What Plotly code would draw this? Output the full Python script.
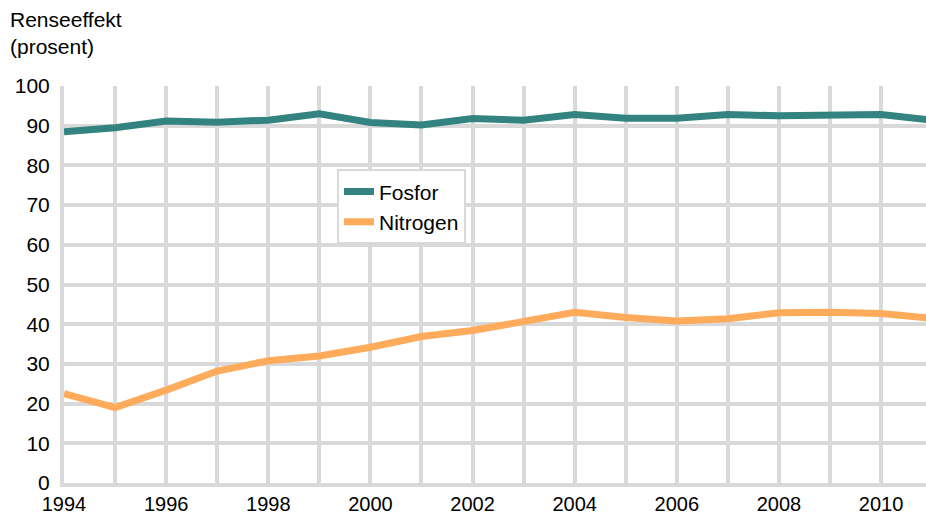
import plotly.graph_objects as go

years = list(range(1994, 2012))
fosfor = [88.5, 89.5, 91.2, 90.9, 91.4, 93.0, 90.8, 90.2, 91.8, 91.4, 92.8, 91.9, 91.9, 92.8, 92.5, 92.8, 92.8, 91.4]
nitrogen = [22.5, 19.0, 23.4, 28.2, 30.8, 32.0, 34.2, 36.9, 38.4, 40.8, 43.0, 41.7, 40.8, 41.4, 42.9, 43.0, 42.7, 41.5]
x_tickvals = years
x_ticktext = [str(y) if y % 2 == 0 else "" for y in years]
y_tickvals = list(range(0, 101, 10))

grid = "#d9d9d9"
font = "Liberation Sans, Arial, sans-serif"
fs = 21

fig = go.Figure()
fig.add_trace(go.Scatter(x=years, y=fosfor, mode="lines", name="Fosfor",
                         line=dict(color="#338480", width=7)))
fig.add_trace(go.Scatter(x=years, y=nitrogen, mode="lines", name="Nitrogen",
                         line=dict(color="#ffab5c", width=7)))

fig.update_layout(
    width=926, height=515,
    margin=dict(l=64, r=0, t=86, b=32),
    plot_bgcolor="white", paper_bgcolor="white",
    font=dict(family=font, size=fs, color="#000000"),
    showlegend=True,
    legend=dict(x=273/862, y=0.79, xanchor="left", yanchor="top",
                bgcolor="white", bordercolor=grid, borderwidth=2,
                font=dict(size=fs), tracegroupgap=0),
)
fig.add_annotation(text="Renseeffekt<br>(prosent)", xref="paper", yref="paper",
                   x=-56/862, y=1 + 80/397, xanchor="left", yanchor="top",
                   showarrow=False, align="left", font=dict(size=fs, family=font))
fig.update_xaxes(range=[1994, 2010.88], tickvals=x_tickvals, ticktext=x_ticktext,
                 showgrid=True, gridcolor=grid, gridwidth=4,
                 showline=True, linecolor=grid, linewidth=4, automargin=False,
                 ticks="", zeroline=False, tickfont=dict(size=20), ticklabelstandoff=0)
fig.update_yaxes(range=[0, 100], tickvals=y_tickvals, automargin=False,
                 showgrid=True, gridcolor=grid, gridwidth=4,
                 showline=True, linecolor=grid, linewidth=4, mirror=False,
                 ticks="", zeroline=False, tickfont=dict(size=fs), ticklabelstandoff=6)

fig.write_html("out.html", config={"displayModeBar": False},
               post_script="document.body.style.margin='0';document.body.style.overflow='hidden';")
